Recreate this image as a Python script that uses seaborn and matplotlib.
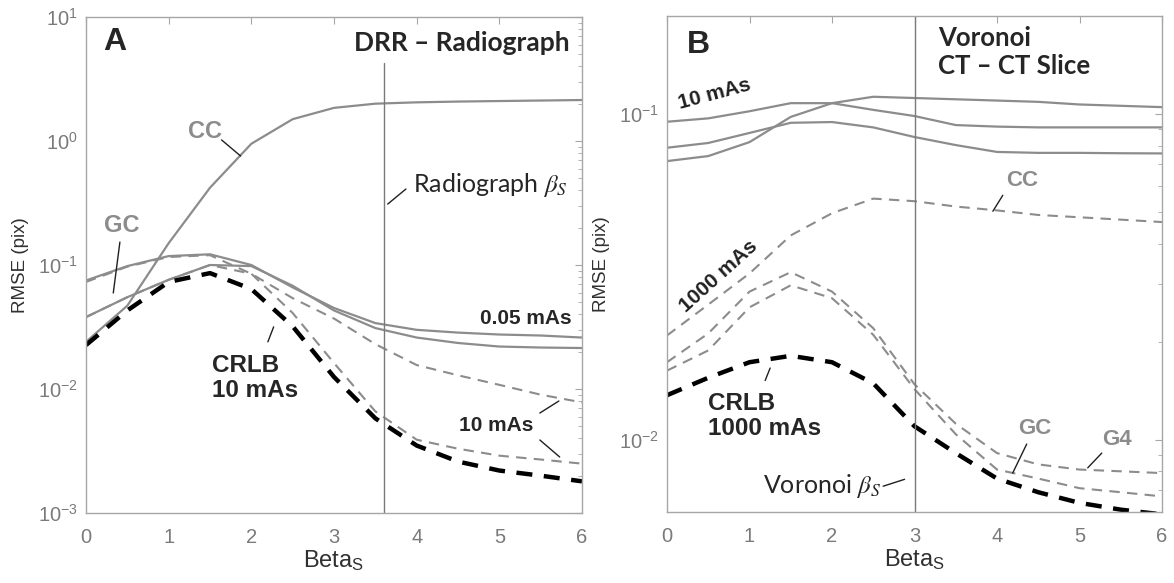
import numpy as np
import pandas as pd
import seaborn as sns
import matplotlib.pyplot as plt

# ---- data ----
beta = [0, 0.5, 1, 1.5, 2, 2.5, 3, 3.5, 4, 4.5, 5, 5.5, 6]

# panel A: DRR - Radiograph
a_cc = [0.024, 0.047, 0.15, 0.42, 0.95, 1.5, 1.85, 2.0, 2.05, 2.08, 2.1, 2.12, 2.14]
a_solid_hi = [0.075, 0.098, 0.118, 0.122, 0.1, 0.066, 0.045, 0.034, 0.030, 0.0285, 0.0275, 0.027, 0.026]
a_solid_lo = [0.038, 0.055, 0.076, 0.1, 0.098, 0.068, 0.043, 0.031, 0.026, 0.0235, 0.022, 0.0216, 0.0214]
a_dash_hi = [0.073, 0.097, 0.116, 0.12, 0.085, 0.054, 0.037, 0.023, 0.0156, 0.0129, 0.0108, 0.009, 0.0078]
a_dash_lo = [0.038, 0.055, 0.076, 0.1, 0.085, 0.041, 0.0162, 0.0066, 0.0039, 0.0033, 0.0029, 0.0027, 0.0025]
a_crlb = [0.0226, 0.043, 0.073, 0.086, 0.064, 0.032, 0.0125, 0.0058, 0.0035, 0.0026, 0.0022, 0.002, 0.0018]

# panel B: Voronoi CT - CT slice
b_solid_1 = [0.0947, 0.097, 0.102, 0.108, 0.108, 0.103, 0.0986, 0.0925, 0.0915, 0.091, 0.091, 0.091, 0.091]
b_solid_2 = [0.0788, 0.0815, 0.0875, 0.094, 0.0945, 0.091, 0.085, 0.0803, 0.0765, 0.076, 0.076, 0.0758, 0.0757]
b_solid_3 = [0.0717, 0.0743, 0.082, 0.098, 0.108, 0.113, 0.112, 0.111, 0.11, 0.109, 0.107, 0.106, 0.105]
b_cc = [0.0209, 0.026, 0.0324, 0.0424, 0.0496, 0.055, 0.054, 0.052, 0.0506, 0.049, 0.0482, 0.0474, 0.0466]
b_g4 = [0.0173, 0.0212, 0.0285, 0.0327, 0.0285, 0.022, 0.0148, 0.0112, 0.0091, 0.0084, 0.0081, 0.008, 0.0079]
b_gc = [0.0163, 0.0188, 0.0255, 0.0298, 0.0272, 0.021, 0.0143, 0.0104, 0.0081, 0.0076, 0.0071, 0.0069, 0.0067]
b_crlb = [0.0137, 0.0155, 0.0173, 0.0181, 0.0173, 0.0149, 0.011, 0.0091, 0.0076, 0.0069, 0.0064, 0.0061, 0.0059]

xticks = [0, 1, 2, 3, 4, 5, 6]
beta_s_a = 3.6
beta_s_b = 3.0

GRAY = '#8c8c8c'
AXC = '#a6a6a6'
TICKC = '#7a7a7a'

sns.set_style('white')
plt.rcParams['font.family'] = ['Liberation Sans', 'DejaVu Sans']
plt.rcParams['mathtext.fontset'] = 'stix'

fig = plt.figure(figsize=(11.74, 5.83), dpi=100)
ax_a = fig.add_axes([86 / 1174, 70 / 583, 496 / 1174, 496 / 583])
ax_b = fig.add_axes([667 / 1174, 71 / 583, 495 / 1174, 496 / 583])


def draw(ax, y, kind):
    # kind: solid gray, dashed gray or crlb (thick black dashes)
    if kind == 'solid':
        sns.lineplot(x=beta, y=y, ax=ax, color=GRAY, lw=1.6)
    elif kind == 'dash':
        sns.lineplot(x=beta, y=y, ax=ax, color=GRAY, lw=1.5)
        ax.lines[-1].set_dashes((5, 3.5))
    else:
        sns.lineplot(x=beta, y=y, ax=ax, color='black', lw=3.2)
        ax.lines[-1].set_dashes((3.6, 2.6))


def style_axes(ax, ylim):
    ax.set_yscale('log')
    ax.set_xlim(0, 6)
    ax.set_ylim(*ylim)
    ax.set_xticks(xticks)
    for s in ax.spines.values():
        s.set_visible(True)
        s.set_color(AXC)
        s.set_linewidth(1.0)
    ax.tick_params(which='both', direction='in', top=True, right=True,
                   color=AXC, labelcolor=TICKC, labelsize=14.5)
    ax.tick_params(which='major', length=5)
    ax.tick_params(which='minor', length=3)
    ax.tick_params(axis='x', pad=11)
    ax.tick_params(axis='y', pad=6)
    ax.set_xlabel('Beta$_\\mathdefault{S}$', fontsize=17, color='#303030', labelpad=1)
    ax.set_ylabel('RMSE (pix)', fontsize=13.5, color='#303030', labelpad=6)


def pointer(ax, p0, p1):
    ax.annotate('', xy=p1, xytext=p0,
                arrowprops=dict(arrowstyle='-', color='#202020', lw=1.0,
                                shrinkA=0, shrinkB=0))


# ---- panel A ----
draw(ax_a, a_cc, 'solid')
draw(ax_a, a_solid_hi, 'solid')
draw(ax_a, a_solid_lo, 'solid')
draw(ax_a, a_dash_hi, 'dash')
draw(ax_a, a_dash_lo, 'dash')
draw(ax_a, a_crlb, 'crlb')
ax_a.axvline(beta_s_a, ymax=0.907, color='#7a7a7a', lw=1.0)
style_axes(ax_a, (1e-3, 10))

ax_a.text(0.035, 0.95, 'A', transform=ax_a.transAxes, fontsize=23,
          fontweight='bold', va='center', ha='left')
ax_a.text(0.975, 0.948, 'DRR \u2013 Radiograph', transform=ax_a.transAxes,
          fontsize=19, fontweight='bold', family='Lato', va='center', ha='right')
ax_a.text(3.95, 0.44, 'Radiograph $\\beta_S$', fontsize=18, family='Lato',
          va='center', ha='left')
pointer(ax_a, (3.87, 0.41), (3.65, 0.31))
ax_a.text(1.44, 1.2, 'CC', fontsize=17, fontweight='bold', color=GRAY,
          va='center', ha='center')
pointer(ax_a, (1.64, 1.02), (1.87, 0.757))
ax_a.text(0.435, 0.21, 'GC', fontsize=17, fontweight='bold', color=GRAY,
          va='center', ha='center')
pointer(ax_a, (0.41, 0.153), (0.33, 0.0595))
ax_a.text(5.88, 0.0373, '0.05 mAs', fontsize=15, fontweight='bold',
          va='center', ha='right')
ax_a.text(4.96, 0.0051, '10 mAs', fontsize=15, fontweight='bold',
          va='center', ha='center')
pointer(ax_a, (5.49, 0.0064), (5.72, 0.0080))
pointer(ax_a, (5.49, 0.00388), (5.73, 0.00283))
ax_a.text(1.52, 0.0122, 'CRLB\n10 mAs', fontsize=17.5, fontweight='bold',
          va='center', ha='left', linespacing=1.1)
pointer(ax_a, (2.2, 0.024), (2.27, 0.0317))

# ---- panel B ----
draw(ax_b, b_solid_1, 'solid')
draw(ax_b, b_solid_2, 'solid')
draw(ax_b, b_solid_3, 'solid')
draw(ax_b, b_cc, 'dash')
draw(ax_b, b_g4, 'dash')
draw(ax_b, b_gc, 'dash')
draw(ax_b, b_crlb, 'crlb')
ax_b.axvline(beta_s_b, color='#7a7a7a', lw=1.0)
style_axes(ax_b, (0.006, 0.2))

ax_b.text(0.04, 0.942, 'B', transform=ax_b.transAxes, fontsize=23,
          fontweight='bold', va='center', ha='left')
ax_b.text(0.547, 0.98, 'Voronoi\nCT \u2013 CT Slice', transform=ax_b.transAxes,
          fontsize=18.5, fontweight='bold', family='Lato', va='top', ha='left',
          linespacing=1.2)
ax_b.text(0.58, 0.115, '10 mAs', fontsize=15, fontweight='bold', color='#202020',
          rotation=15, va='center', ha='center')
ax_b.text(0.62, 0.0317, '1000 mAs', fontsize=15, fontweight='bold', color='#202020',
          rotation=42, va='center', ha='center')
ax_b.text(4.3, 0.0627, 'CC', fontsize=16, fontweight='bold', color=GRAY,
          va='center', ha='center')
pointer(ax_b, (4.07, 0.0563), (3.95, 0.0503))
ax_b.text(0.5, 0.0118, 'CRLB\n1000 mAs', fontsize=17.5, fontweight='bold',
          va='center', ha='left', linespacing=1.1)
pointer(ax_b, (1.25, 0.0166), (1.19, 0.0152))
ax_b.text(1.16, 0.0072, 'Voronoi $\\beta_S$', fontsize=18, family='Lato',
          va='center', ha='left')
pointer(ax_b, (2.62, 0.0072), (2.88, 0.00756))
ax_b.text(4.46, 0.0108, 'GC', fontsize=16, fontweight='bold', color=GRAY,
          va='center', ha='center')
pointer(ax_b, (4.36, 0.0097), (4.19, 0.0079))
ax_b.text(5.45, 0.01, 'G4', fontsize=16, fontweight='bold', color=GRAY,
          va='center', ha='center')
pointer(ax_b, (5.27, 0.0091), (5.1, 0.0082))

fig.savefig('out.png', dpi=100)
